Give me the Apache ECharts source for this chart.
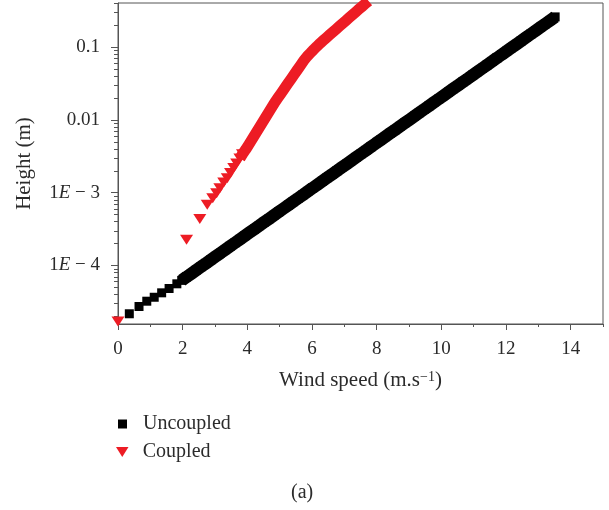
<!DOCTYPE html>
<html>
<head>
<meta charset="utf-8">
<script src="https://cdn.jsdelivr.net/npm/echarts@6/dist/echarts.min.js"></script>
<style>
    html, body {margin: 0; padding: 0; background: #fff;}
    #chart_1 {width: 609px; height: 510px;}
</style>
</head>
<body>
<div id="chart_1"></div>
<script>
// wind speed (m/s) and height (m)
var uncoupledSpeed = [0.35, 0.65, 0.89, 1.12, 1.35, 1.58, 1.82,
    1.97, 2.12, 2.27, 2.42, 2.57, 2.72, 2.87, 3.02, 3.17, 3.32,
    3.47, 3.62, 3.77, 3.92, 4.07, 4.22, 4.37, 4.52, 4.67, 4.82,
    4.97, 5.12, 5.27, 5.42, 5.57, 5.72, 5.87, 6.02, 6.17, 6.32,
    6.47, 6.62, 6.77, 6.92, 7.07, 7.22, 7.37, 7.52, 7.67, 7.82,
    7.97, 8.12, 8.27, 8.42, 8.57, 8.72, 8.87, 9.02, 9.17, 9.32,
    9.47, 9.62, 9.77, 9.92, 10.07, 10.22, 10.37, 10.52, 10.67, 10.82,
    10.97, 11.12, 11.27, 11.42, 11.57, 11.72, 11.87, 12.02, 12.17, 12.32,
    12.47, 12.62, 12.77, 12.92, 13.07, 13.22, 13.37, 13.52];
var uncoupledHeight = [2.17e-5, 2.73e-5, 3.23e-5, 3.66e-5, 4.21e-5, 4.83e-5, 5.60e-5,
    6.24e-5, 6.95e-5, 7.75e-5, 8.64e-5, 9.62e-5, 1.072e-4, 1.195e-4, 1.332e-4, 1.484e-4, 1.654e-4,
    1.843e-4, 2.054e-4, 2.289e-4, 2.551e-4, 2.843e-4, 3.168e-4, 3.530e-4, 3.934e-4, 4.384e-4, 4.886e-4,
    5.445e-4, 6.068e-4, 6.762e-4, 7.535e-4, 8.397e-4, 9.358e-4, 1.043e-3, 1.162e-3, 1.295e-3, 1.443e-3,
    1.608e-3, 1.792e-3, 1.997e-3, 2.226e-3, 2.480e-3, 2.764e-3, 3.080e-3, 3.433e-3, 3.825e-3, 4.263e-3,
    4.751e-3, 5.294e-3, 5.900e-3, 6.575e-3, 7.327e-3, 8.165e-3, 9.099e-3, 1.014e-2, 1.130e-2, 1.259e-2,
    1.403e-2, 1.564e-2, 1.743e-2, 1.942e-2, 2.164e-2, 2.412e-2, 2.688e-2, 2.995e-2, 3.338e-2, 3.710e-2,
    4.14e-2, 4.61e-2, 5.14e-2, 5.73e-2, 6.38e-2, 7.11e-2, 7.93e-2, 8.83e-2, 9.84e-2, 0.1097,
    0.1222, 0.1362, 0.1518, 0.1692, 0.1885, 0.2101, 0.2341, 0.2609];

var coupledSpeed = [0.0, 2.12, 2.53, 2.76, 2.93, 3.05, 3.15, 3.27, 3.38, 3.48,
    3.58, 3.67, 3.77, 3.85, 3.95, 4.05, 4.15, 4.25, 4.35, 4.45,
    4.55, 4.65, 4.75, 4.85, 4.95, 5.05, 5.15, 5.25, 5.35, 5.45,
    5.55, 5.65, 5.75, 5.85, 5.95, 6.05, 6.15, 6.25, 6.35, 6.45,
    6.55, 6.65, 6.75, 6.85, 6.95, 7.05, 7.15, 7.25, 7.35, 7.45,
    7.55, 7.65, 7.75];
var coupledHeight = [1.7e-5, 2.25e-4, 4.37e-4, 6.81e-4, 8.41e-4, 9.84e-4, 1.148e-3, 1.380e-3, 1.585e-3, 1.862e-3,
    2.188e-3, 2.512e-3, 2.951e-3, 3.39e-3, 3.93e-3, 4.63e-3, 5.47e-3, 6.46e-3, 7.62e-3, 8.99e-3,
    1.062e-2, 1.253e-2, 1.479e-2, 1.746e-2, 2.023e-2, 2.344e-2, 2.716e-2, 3.148e-2, 3.648e-2, 4.227e-2,
    4.898e-2, 5.675e-2, 6.577e-2, 7.482e-2, 8.318e-2, 9.268e-2, 0.1026, 0.1130, 0.1239, 0.1355,
    0.1483, 0.1622, 0.1774, 0.1941, 0.2123, 0.2323, 0.2541, 0.2780, 0.3041, 0.3327,
    0.3631, 0.3963, 0.4315];

var speedTicks = [0, 2, 4, 6, 8, 10, 12, 14];
var speedMinorTicks = [1, 3, 5, 7, 9, 11, 13, 15];
var heightTicks = [0.1, 0.01, 1e-3, 1e-4];
var heightTickLabels = ['0.1', '0.01', '1E − 3', '1E − 4'];
var heightMin = 1.57e-5, heightMax = 0.405;

var FONT = '"Liberation Serif", "DejaVu Serif", serif';
var TEXT = '#2b2b2b';
var AXIS = '#555';
var BLACK = '#000';
var RED = '#ed1c24';

// log10 positions for the y axis (value axis drawn in log space)
var lg = function (v) { return Math.log10(v); };
var heightMinor = [];
for (var p = -5; p <= -1; p++) {
    for (var k = 2; k <= 9; k++) {
        var v = k * Math.pow(10, p);
        if (v > heightMin && v < heightMax) heightMinor.push(lg(v));
    }
}

function pairs(xs, ys) {
    var d = [];
    for (var i = 0; i < xs.length; i++) d.push([xs[i], lg(ys[i])]);
    return d;
}

var uncoupledData = pairs(uncoupledSpeed, uncoupledHeight);
var coupledData = pairs(coupledSpeed, coupledHeight);
// past these points the markers overlap so much they read as a solid band
var uncoupledBandFrom = 7;
var coupledBandFrom = 12;

var myChart = echarts.init(document.getElementById('chart_1'));
var option = {
    animation: false,
    textStyle: {fontFamily: FONT, color: TEXT},
    title: {
        text: '(a)',
        left: 291,
        top: 483,
        padding: 0,
        textStyle: {fontFamily: FONT, fontSize: 20, fontWeight: 'normal', color: TEXT}
    },
    legend: [
        {
            data: [{name: 'Uncoupled', icon: 'rect'}],
            left: 118, top: 414, padding: 0,
            itemWidth: 9, itemHeight: 9,
            formatter: '{t|{name}}',
            textStyle: {rich: {t: {padding: [0, 0, 0, 11], fontFamily: FONT, fontSize: 20, color: TEXT}}}
        },
        {
            data: [{name: 'Coupled', icon: 'path://M0,0L10,0L5,8Z'}],
            left: 116, top: 442, padding: 0,
            itemWidth: 13, itemHeight: 10,
            formatter: '{t|{name}}',
            textStyle: {rich: {t: {padding: [0, 0, 0, 9], fontFamily: FONT, fontSize: 20, color: TEXT}}}
        }
    ],
    grid: {
        left: 118, right: 6, top: 3, bottom: 186,
        show: true, borderColor: AXIS, borderWidth: 1
    },
    xAxis: [
        {
            type: 'value', min: 0, max: 15,
            name: '{n|Wind speed (m.s}{s|−1}{n|)}',
            nameLocation: 'middle', nameGap: 46,
            nameTextStyle: {
                rich: {
                    n: {fontFamily: FONT, fontSize: 21, color: TEXT},
                    s: {fontFamily: FONT, fontSize: 14, color: TEXT, verticalAlign: 'top'}
                }
            },
            axisLine: {lineStyle: {color: AXIS, width: 1}},
            axisTick: {customValues: speedTicks, length: 6, lineStyle: {color: AXIS}},
            axisLabel: {customValues: speedTicks, margin: 16, fontFamily: FONT, fontSize: 19, color: TEXT},
            splitLine: {show: false}
        },
        {
            type: 'value', min: 0, max: 15, position: 'bottom',
            axisLine: {show: false},
            axisTick: {customValues: speedMinorTicks, length: 3, lineStyle: {color: AXIS}},
            axisLabel: {show: false},
            splitLine: {show: false}
        }
    ],
    yAxis: [
        {
            type: 'value', min: lg(heightMin), max: lg(heightMax),
            name: 'Height (m)',
            nameLocation: 'middle', nameGap: 83,
            nameTextStyle: {fontFamily: FONT, fontSize: 21, color: TEXT},
            axisLine: {show: true, lineStyle: {color: AXIS, width: 1}},
            axisTick: {show: true, customValues: heightTicks.map(lg), length: 7, lineStyle: {color: AXIS}},
            axisLabel: {
                customValues: heightTicks.map(lg),
                margin: 18,
                fontFamily: FONT, fontSize: 19, color: TEXT,
                formatter: function (val) {
                    for (var i = 0; i < heightTicks.length; i++) {
                        if (Math.abs(lg(heightTicks[i]) - val) < 1e-6) {
                            return heightTickLabels[i].replace('E', '{e|E}');
                        }
                    }
                    return '';
                },
                rich: {e: {fontStyle: 'italic', fontFamily: FONT, fontSize: 19, color: TEXT}}
            },
            splitLine: {show: false}
        },
        {
            type: 'value', min: lg(heightMin), max: lg(heightMax), position: 'left',
            axisLine: {show: false},
            axisTick: {show: true, customValues: heightMinor, length: 4, lineStyle: {color: AXIS}},
            axisLabel: {show: false},
            splitLine: {show: false}
        }
    ],
    series: [
        {
            name: 'Uncoupled',
            type: 'line',
            symbol: 'none',
            itemStyle: {color: BLACK},
            lineStyle: {color: BLACK, width: 12.5},
            data: uncoupledData.slice(uncoupledBandFrom)
        },
        {
            name: 'Uncoupled',
            type: 'scatter',
            symbol: 'rect',
            symbolSize: 9,
            itemStyle: {color: BLACK, opacity: 1},
            data: uncoupledData
        },
        {
            name: 'Coupled',
            type: 'line',
            symbol: 'none',
            itemStyle: {color: RED},
            lineStyle: {color: RED, width: 11, join: 'round'},
            data: coupledData.slice(coupledBandFrom)
        },
        {
            name: 'Coupled',
            type: 'scatter',
            symbol: 'path://M0,0L10,0L5,8Z',
            symbolSize: [13, 10],
            itemStyle: {color: RED, opacity: 1},
            data: coupledData.slice(0, coupledBandFrom + 2)
        }
    ]
};

myChart.setOption(option);
</script>
</body>
</html>
